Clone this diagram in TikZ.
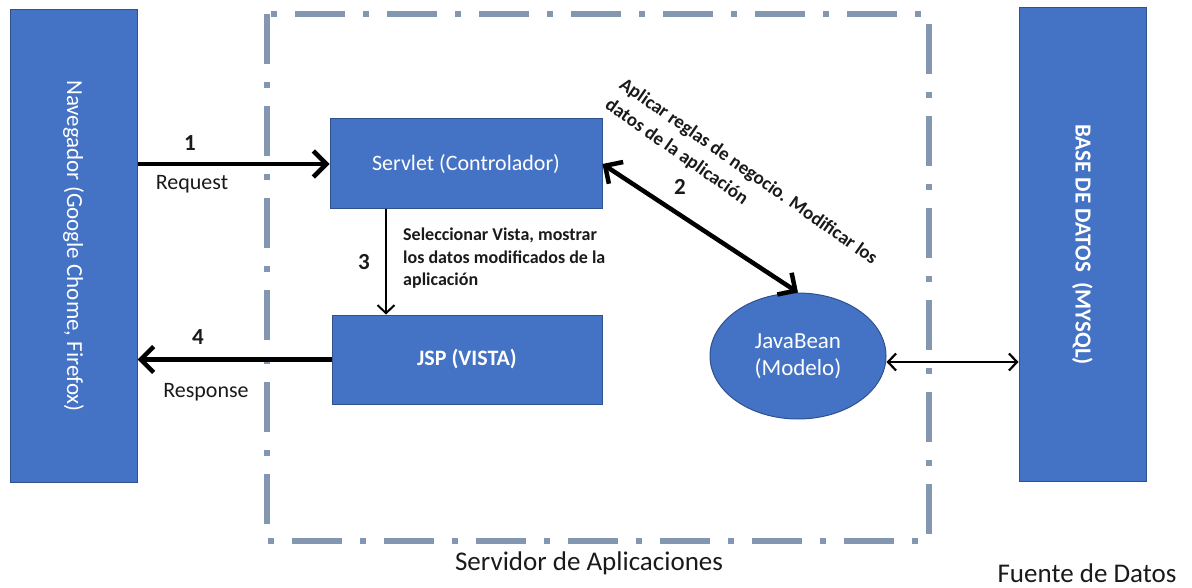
\documentclass[tikz,border=0pt]{standalone}
\usepackage{fontspec}
\setmainfont{Carlito}
\usetikzlibrary{arrows.meta,shapes.geometric}
\definecolor{boxblue}{HTML}{4472C4}
\definecolor{boxedge}{HTML}{2F528F}
\definecolor{framegray}{HTML}{8497B0}
\definecolor{labelink}{HTML}{1A1A1A}
\begin{document}
\begin{tikzpicture}[x=1pt,y=-1pt,
  block/.style={draw=boxedge, fill=boxblue, line width=1pt, text=white, inner sep=0pt, align=center},
  serverframe/.style={draw=framegray, line width=6.5pt, dash pattern=on 50pt off 18pt on 6pt off 18pt},
  bigflow/.style={line width=4.5pt, -{Straight Barb[length=13pt,width=26pt,line width=4.5pt]}},
  bigboth/.style={line width=4.5pt, {Straight Barb[length=13pt,width=26pt,line width=4.5pt]}-{Straight Barb[length=13pt,width=26pt,line width=4.5pt]}},
  thinflow/.style={line width=2pt, -{Straight Barb[length=8pt,width=17pt,line width=2pt]}},
  thinboth/.style={line width=2.2pt, {Straight Barb[length=8pt,width=17pt,line width=2.2pt]}-{Straight Barb[length=8pt,width=17pt,line width=2.2pt]}},
  numlabel/.style={font=\fontsize{23}{26}\selectfont\bfseries, text=labelink, inner sep=0pt},
  flowlabel/.style={font=\fontsize{22}{26}\selectfont, text=labelink, inner sep=0pt},
  notelabel/.style={font=\fontsize{18}{22.5}\selectfont\bfseries, text=labelink, inner sep=0pt, align=left},
  zonelabel/.style={font=\fontsize{27}{30}\selectfont, text=labelink, inner sep=0pt}
]
\useasboundingbox (0,0) rectangle (1192,588);

% application server boundary
\draw[serverframe] (267,14) rectangle (929,541);
\node[zonelabel] (srvlbl) at (589,563) {Servidor de Aplicaciones};

% browser and database columns
\node[block, minimum width=127pt, minimum height=472pt] (nav) at (73.5,246) {};
\node[rotate=-90, text=white, font=\fontsize{23}{26}\selectfont, inner sep=0pt] (navtxt) at (nav.center) {Navegador (Google Chome, Firefox)};
\node[block, minimum width=127pt, minimum height=473pt] (db) at (1082.5,244.5) {};
\node[rotate=-90, text=white, font=\fontsize{23}{26}\selectfont\bfseries, inner sep=0pt] (dbtxt) at (db.center) {BASE DE DATOS\ \ (MYSQL)};
\node[zonelabel] (dblbl) at (1087,573) {Fuente de Datos};

% MVC components
\node[block, minimum width=272pt, minimum height=90pt, font=\fontsize{22}{26}\selectfont] (servlet) at (466,164) {Servlet (Controlador)};
\node[block, minimum width=270pt, minimum height=89pt, font=\fontsize{22}{26}\selectfont\bfseries] (jsp) at (467,359.5) {JSP (VISTA)};
\node[block, ellipse, minimum width=176pt, minimum height=126pt, font=\fontsize{23}{27}\selectfont] (bean) at (798,356) {JavaBean\\(Modelo)};

% request / response flow
\draw[bigflow] (nav.east |- servlet.west) -- (servlet.west);
\node[numlabel] (n1) at (190,143) {1};
\node[flowlabel] (req) at (192,184) {Request};

\draw[bigflow] (jsp.west) -- (nav.east |- jsp.west);
\node[numlabel] (n4) at (198,337) {4};
\node[flowlabel] (resp) at (206,392) {Response};

\draw[thinflow] ([xshift=-80pt]servlet.south) -- ([xshift=-81pt]jsp.north);
\node[numlabel] (n3) at (364,262) {3};
\node[notelabel, anchor=north west] (sel) at (403,228) {Seleccionar Vista, mostrar\\los datos modificados de la\\aplicación};

\draw[bigboth] (servlet.east) -- (bean.north);
\node[numlabel] (n2) at (680,187) {2};
\node[notelabel, font=\fontsize{19}{25}\selectfont\bfseries, rotate=-35, anchor=north west] (rules) at (626,76) {Aplicar reglas de negocio. Modificar los\\datos de la aplicación};

% model <-> data source link
\coordinate (beanport) at ([yshift=-6pt]bean.east);
\draw[thinboth] (beanport) -- (db.west |- beanport);
\end{tikzpicture}
\end{document}
